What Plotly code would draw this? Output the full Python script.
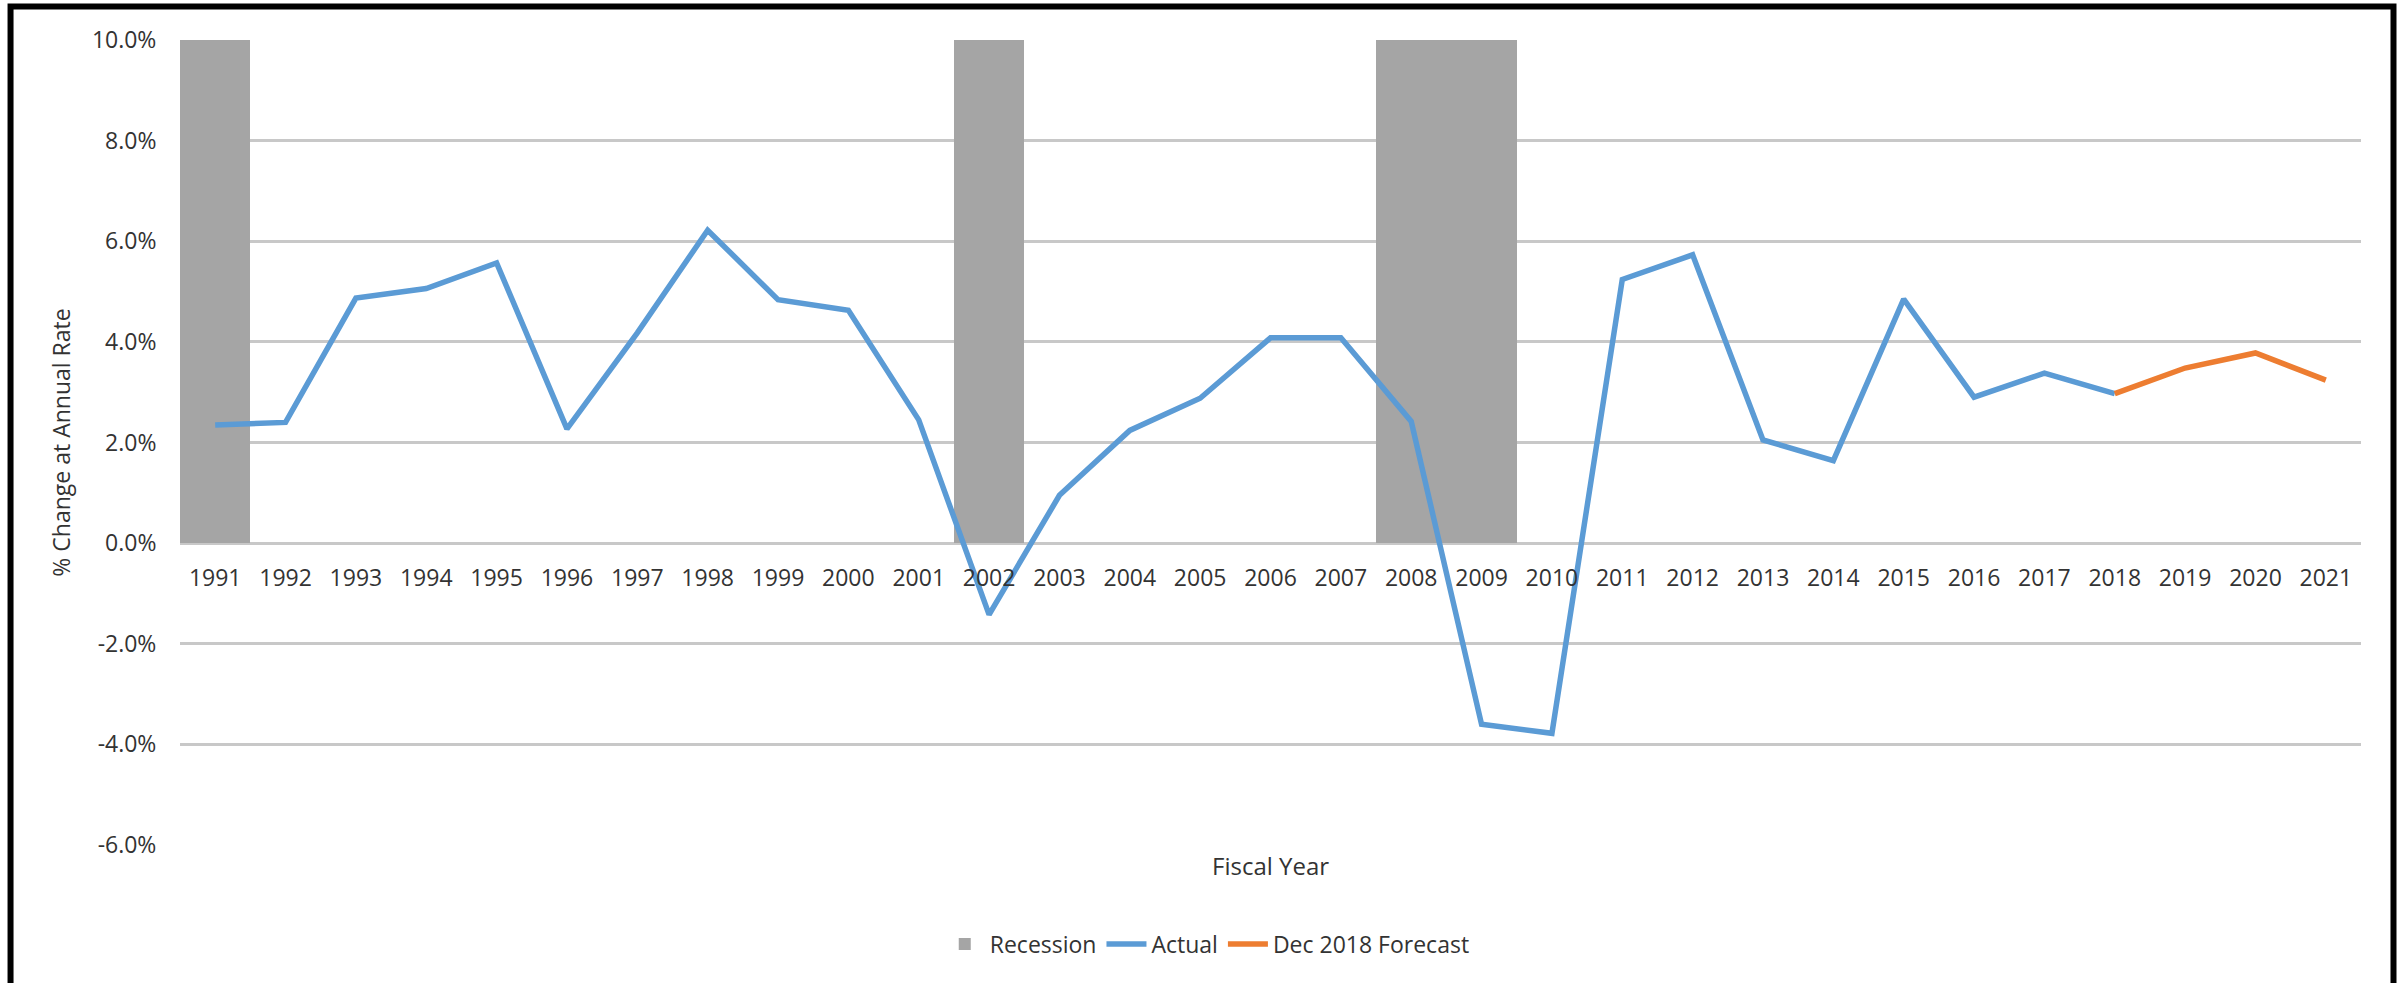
import plotly.graph_objects as go

years = [str(y) for y in range(1991, 2022)]
recession_years = ["1991", "2002", "2008", "2009"]
recession_level = 10.0
actual_years = [str(y) for y in range(1991, 2019)]
actual = [2.35, 2.40, 4.87, 5.06, 5.57, 2.27, 4.18, 6.22, 4.84, 4.63, 2.45, -1.42,
          0.95, 2.24, 2.88, 4.08, 4.08, 2.42, -3.60, -3.78, 5.24, 5.73, 2.05, 1.64,
          4.85, 2.90, 3.38, 2.97]
forecast_years = ["2018", "2019", "2020", "2021"]
forecast = [2.97, 3.48, 3.78, 3.24]
y_tickvals = [-6, -4, -2, 0, 2, 4, 6, 8, 10]
y_ticktext = ["-6.0%", "-4.0%", "-2.0%", "0.0%", "2.0%", "4.0%", "6.0%", "8.0%", "10.0%"]

FONT = "Open Sans"
TXT = "#333333"

fig = go.Figure()
fig.add_trace(go.Bar(
    x=recession_years, y=[recession_level] * len(recession_years), name="Recession",
    marker=dict(color="#a5a5a5", line=dict(width=0)),
))
fig.add_trace(go.Scatter(
    x=actual_years, y=actual, name="Actual", mode="lines",
    line=dict(color="#5b9bd5", width=5.5),
))
fig.add_trace(go.Scatter(
    x=forecast_years, y=forecast, name="Dec 2018 Forecast", mode="lines",
    line=dict(color="#ed7d31", width=5.5),
))

fig.update_layout(
    width=2405, height=983,
    margin=dict(l=180, r=44, t=40, b=138, autoexpand=False),
    paper_bgcolor="white", plot_bgcolor="white",
    font=dict(family=FONT, size=23, color=TXT),
    bargap=0,
    showlegend=True,
    legend=dict(orientation="h", x=0.471, xanchor="center", y=-0.123, yanchor="middle",
                font=dict(size=23, color=TXT), itemwidth=40, traceorder="normal"),
    xaxis=dict(type="category", categoryorder="array", categoryarray=years,
               range=[-0.5, len(years) - 0.5], automargin=False,
               anchor="free", position=6 / 16,
               showgrid=False, zeroline=False, showline=False,
               ticks="outside", ticklen=14, tickcolor="rgba(0,0,0,0)",
               tickfont=dict(size=23, color=TXT)),
    yaxis=dict(range=[-6, 10], tickvals=y_tickvals, ticktext=y_ticktext, automargin=False,
               showgrid=True, gridcolor="#c8c8c8", gridwidth=2.5,
               zeroline=False, showline=False,
               ticks="outside", ticklen=18, tickcolor="rgba(0,0,0,0)",
               tickfont=dict(size=23, color=TXT),
               title=dict(text="% Change at Annual Rate", font=dict(size=23, color=TXT), standoff=14)),
    annotations=[dict(text="Fiscal Year", xref="paper", yref="paper", x=0.5, y=-0.026,
                      showarrow=False, font=dict(size=24, color=TXT), yanchor="middle")],
    shapes=[dict(type="rect", xref="paper", yref="paper",
                 x0=-0.0777, x1=1.0149, y0=-0.25, y1=1.0416,
                 line=dict(color="black", width=6), layer="above")],
)

fig.write_html("out.html", config={"displayModeBar": False},
               post_script="document.body.style.margin='0';document.body.style.overflow='hidden';")
